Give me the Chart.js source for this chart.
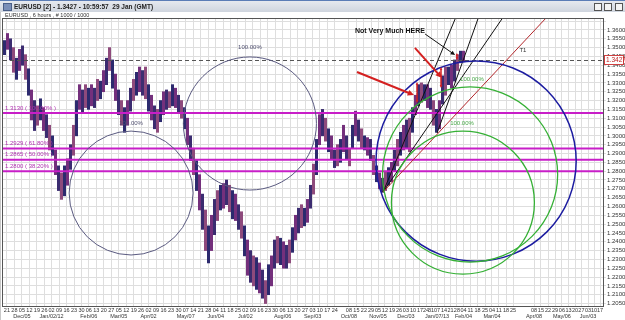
<!DOCTYPE html>
<html>
<head>
<meta charset="utf-8">
<script src="https://cdn.jsdelivr.net/npm/chart.js@4.4.0/dist/chart.umd.min.js"></script>
<style>
html, body { margin: 0; padding: 0; background: #fff; }
#wrap { position: relative; width: 625px; height: 320px; overflow: hidden; }
#tb { position: absolute; left: 0; top: 0; width: 625px; height: 12px; box-sizing: border-box;
  border-top: 1px solid #5b7db6; background: linear-gradient(#e6e9ef, #cfd5de);
  font: bold 6.5px 'Liberation Sans', Arial, sans-serif; color: #222; }
#tb .t { position: absolute; left: 14px; top: 2px; }
#tb .ico { position: absolute; left: 3px; top: 2px; width: 7px; height: 6px; background: #7a8fb8; border: 1px solid #4a5f88; }
#tb .b { position: absolute; top: 2px; width: 6px; height: 6px; border: 1px solid #555; background: #f4f4f4; }
#sub { position: absolute; left: 5px; top: 12px; font: 5.5px 'Liberation Sans', Arial, sans-serif; color: #333; }
canvas { position: absolute; left: 0; top: 0; }
</style>
</head>
<body>
<div id="wrap">
<canvas id="c" width="625" height="320"></canvas>
<div id="tb"><span class="ico"></span><span class="t">EURUSD [2] - 1.3427 - 10:59:57&nbsp; 29 Jan (GMT)</span>
<span class="b" style="left:594px"></span><span class="b" style="left:604px"></span><span class="b" style="left:615px"></span></div>
<div id="sub">EURUSD , 6 hours , # 1000 / 1000</div>
</div>
<script>
// weekly x labels (one per week start), month label under the first week of a month
const weekDays = ['21','28','05','12','19','26','02','09','16','23','30','06','13','20','27','05','12','19','26','02','09','16','23','30','07','14','21','28','04','11','18','25','02','09','16','23','30','06','13','20','27','03','10','17','24',
  '08','15','22','29','05','12','19','26','03','10','17','24','31','07','14','21','28','04','11','18','25','04','11','18','25',
  '08','15','22','29','06','13','20','27','03','10','17'];
const monthNames = {2:'Dec/05', 6:'Jan/02/12', 11:'Feb/06', 15:'Mar/05', 19:'Apr/02', 24:'May/07', 28:'Jun/04', 32:'Jul/02', 37:'Aug/06', 41:'Sep/03',
  45:'Oct/08', 49:'Nov/05', 53:'Dec/03', 58:'Jan/07/13', 62:'Feb/04', 66:'Mar/04', 70:'Apr/08', 74:'May/06', 78:'Jun/03'};
// bar slot where each week starts
const weekPos = [0.8,3.3,5.8,8.3,10.8,13.3,15.7,18.2,20.7,23.2,25.7,28.1,30.6,33.1,35.6,38.1,40.6,43.1,45.5,48.0,50.5,53.0,55.5,58.0,60.4,62.9,65.4,67.9,70.4,72.9,
  75.3,77.8,80.3,82.8,85.3,87.8,90.2,92.7,95.2,97.7,100.2,102.7,105.1,107.6,110.1,
  114.8,117.3,119.8,122.2,124.5,126.8,129.2,131.5,133.8,136.2,138.5,140.5,142.2,144.2,146.5,148.7,150.8,153.0,155.3,157.7,160.2,162.5,164.8,167.2,169.5,
  176.5,178.8,181.2,183.5,185.8,188.0,190.2,192.3,194.5,196.5,198.5];

// EURUSD price range per bar slot
const highs = [1.354,1.358,1.355,1.350,1.344,1.349,1.351,1.346,1.338,1.326,1.320,1.317,1.321,1.316,1.312,1.306,1.300,1.292,1.283,1.279,
  1.283,1.287,1.295,1.306,1.320,1.329,1.326,1.329,1.327,1.329,1.327,1.332,1.331,1.337,1.344,1.350,1.343,1.335,1.326,1.320,
  1.316,1.320,1.327,1.332,1.336,1.339,1.337,1.339,1.329,1.323,1.317,1.315,1.320,1.325,1.326,1.325,1.329,1.327,1.323,1.320,
  1.316,1.310,1.300,1.293,1.286,1.278,1.267,1.258,1.249,1.255,1.264,1.269,1.272,1.273,1.275,1.272,1.269,1.267,1.261,1.257,
  1.249,1.241,1.235,1.232,1.231,1.228,1.224,1.218,1.227,1.232,1.241,1.243,1.242,1.240,1.238,1.241,1.248,1.255,1.259,1.261,
  1.259,1.264,1.272,1.284,1.298,1.312,1.315,1.310,1.304,1.300,1.292,1.295,1.298,1.306,1.300,1.293,1.306,1.314,1.309,1.304,
  1.300,1.299,1.298,1.289,1.283,1.279,1.276,1.280,1.282,1.285,1.292,1.298,1.302,1.306,1.309,1.310,1.316,1.323,1.329,1.330,
  1.329,1.329,1.327,1.320,1.315,1.320,1.334,1.339,1.339,1.340,1.343,1.346,1.348,1.348];
const lows = [1.346,1.349,1.343,1.336,1.332,1.337,1.340,1.332,1.323,1.309,1.303,1.306,1.309,1.303,1.299,1.292,1.289,1.278,1.269,1.264,
  1.266,1.272,1.281,1.289,1.300,1.315,1.313,1.316,1.315,1.317,1.316,1.320,1.321,1.325,1.329,1.337,1.327,1.320,1.312,1.306,
  1.302,1.306,1.314,1.320,1.323,1.325,1.323,1.321,1.314,1.309,1.304,1.302,1.308,1.312,1.315,1.316,1.317,1.316,1.313,1.310,
  1.304,1.295,1.286,1.278,1.269,1.258,1.247,1.235,1.228,1.235,1.244,1.252,1.258,1.259,1.261,1.257,1.253,1.252,1.247,1.242,
  1.232,1.221,1.217,1.215,1.213,1.211,1.208,1.205,1.210,1.215,1.225,1.228,1.227,1.225,1.225,1.228,1.234,1.241,1.245,1.248,
  1.249,1.251,1.259,1.267,1.278,1.295,1.300,1.297,1.291,1.287,1.282,1.283,1.285,1.291,1.287,1.283,1.293,1.300,1.297,1.293,
  1.292,1.289,1.286,1.278,1.274,1.270,1.268,1.269,1.272,1.274,1.280,1.283,1.289,1.292,1.293,1.291,1.302,1.312,1.317,1.319,
  1.320,1.316,1.315,1.306,1.302,1.304,1.318,1.323,1.329,1.327,1.331,1.337,1.342,1.342];

const lastPrice = 1.3427;
const fibLevels = [1.3130, 1.2929, 1.2865, 1.2800];
const fibNames = ['100.00%', '61.80%', '50.00%', '38.20%'];

// circles: [slot, price] centre and the price at the top of each circle
const circleCenters = [[81.8, 1.3070], [42.2, 1.2676], [157.2, 1.2857], [155.2, 1.2781], [152.8, 1.2622]];
const circleTops = [1.3447, 1.3027, 1.3424, 1.3277, 1.3027];
const circleLabels = [[81.8, 1.3500], [42.2, 1.3070], null, [155.8, 1.3318], [152.5, 1.3070]];

// trend T1 and fan lines: [[slot, price], [slot, price]]
const trendT1 = [[126.2, 1.2682], [180.2, 1.3662]];
const fanLines = [
  [[126.2, 1.2682], [150.2, 1.3662]],
  [[144.2, 1.3016], [157.8, 1.3662]],
  [[126.2, 1.2682], [165.8, 1.3662]]
];
const redArrows = [[[117.5, 1.3362], [136.5, 1.3231]], [[136.8, 1.3498], [145.8, 1.3328]]];
const noteArrow = [[140.2, 1.3577], [150.2, 1.3458]];
const rangeMarks = [[137.5, 1.3305, 1.3186], [145.5, 1.3390, 1.3271], [150.8, 1.3470, 1.3430]];
const noteText = 'Not Very Much HERE';
const notePos = [128.5, 1.3594];
const t1Pos = [172.8, 1.3487];

const FONT = "'Liberation Sans', Arial, sans-serif";
const candleColors = ['#2c2a6e', '#74307c', '#3b2c70', '#8e4a7c'];

function seg(p) { return p.map(q => ({x: q[0], y: q[1]})); }

const datasets = [{
  type: 'bar',
  data: highs.map((h, i) => ({x: i, y: [lows[i], h]})),
  backgroundColor: highs.map((h, i) => candleColors[i % candleColors.length]),
  barThickness: 2.4,
  order: 10
}];
fibLevels.forEach(v => datasets.push({
  type: 'line', data: [{x: -0.5, y: v}, {x: 199.5, y: v}],
  borderColor: '#c81ec8', borderWidth: 2, pointRadius: 0, order: 5
}));
datasets.push({type: 'line', data: seg(trendT1), borderColor: '#b3262a', borderWidth: 1, pointRadius: 0, order: 2});
fanLines.forEach(l => datasets.push({type: 'line', data: seg(l), borderColor: '#111', borderWidth: 1, pointRadius: 0, order: 2}));

function arrow(ctx, x1, y1, x2, y2, color, w, head) {
  const a = Math.atan2(y2 - y1, x2 - x1);
  ctx.strokeStyle = color; ctx.fillStyle = color; ctx.lineWidth = w;
  ctx.beginPath(); ctx.moveTo(x1, y1); ctx.lineTo(x2 - Math.cos(a) * head * 0.6, y2 - Math.sin(a) * head * 0.6); ctx.stroke();
  ctx.beginPath(); ctx.moveTo(x2, y2);
  ctx.lineTo(x2 - head * Math.cos(a - 0.45), y2 - head * Math.sin(a - 0.45));
  ctx.lineTo(x2 - head * Math.cos(a + 0.45), y2 - head * Math.sin(a + 0.45));
  ctx.closePath(); ctx.fill();
}

const overlay = {
  id: 'overlay',
  beforeDraw(chart) {
    const {ctx, chartArea: a} = chart;
    ctx.save();
    ctx.fillStyle = '#fff';
    ctx.fillRect(a.left, a.top, a.right - a.left, a.bottom - a.top);
    ctx.fillStyle = '#c8c8c8';
    ctx.fillRect(0, 12, 1, 308);
    ctx.restore();
  },
  afterDatasetsDraw(chart) {
    const {ctx, chartArea: a, scales: {x, y}} = chart;
    const X = v => x.getPixelForValue(v), Y = v => y.getPixelForValue(v);
    ctx.save();
    ctx.beginPath(); ctx.rect(a.left, a.top, a.right - a.left, a.bottom - a.top); ctx.clip();

    // last price dashed line
    ctx.setLineDash([4, 3]); ctx.strokeStyle = '#555'; ctx.lineWidth = 1;
    ctx.beginPath(); ctx.moveTo(a.left, Math.round(Y(lastPrice)) + 0.5); ctx.lineTo(a.right, Math.round(Y(lastPrice)) + 0.5); ctx.stroke();
    ctx.setLineDash([]);

    // circles
    const cStyle = [['#5a5a80', 1], ['#5a5a80', 1], ['#1c1ca0', 1.5], ['#35b035', 1.3], ['#35b035', 1.3]];
    circleCenters.forEach((c, i) => {
      const cx = X(c[0]), cy = Y(c[1]);
      const r = Math.abs(cy - Y(circleTops[i]));
      ctx.strokeStyle = cStyle[i][0]; ctx.lineWidth = cStyle[i][1];
      ctx.beginPath(); ctx.arc(cx, cy, r, 0, Math.PI * 2); ctx.stroke();
    });
    ctx.font = '6px ' + FONT; ctx.textAlign = 'center'; ctx.textBaseline = 'middle';
    circleLabels.forEach((l, i) => {
      if (!l) return;
      ctx.fillStyle = i >= 3 ? '#48a848' : '#505070';
      ctx.fillText('100.00%', X(l[0]), Y(l[1]));
    });

    // fib level labels
    ctx.textAlign = 'left'; ctx.fillStyle = '#b030b0'; ctx.font = '6px ' + FONT;
    fibLevels.forEach((v, i) => ctx.fillText(v.toFixed(4) + ' ( ' + fibNames[i] + ' )', a.left + 2, Y(v) - 5));

    // arrows and range marks
    redArrows.forEach(r => arrow(ctx, X(r[0][0]), Y(r[0][1]), X(r[1][0]), Y(r[1][1]), '#d42020', 2, 7));
    arrow(ctx, X(noteArrow[0][0]), Y(noteArrow[0][1]), X(noteArrow[1][0]), Y(noteArrow[1][1]), '#111', 1, 5);
    rangeMarks.forEach(m => {
      const mx = X(m[0]), y1 = Y(m[1]), y2 = Y(m[2]);
      arrow(ctx, mx, (y1 + y2) / 2, mx, y1, '#d42020', 1.5, 3);
      arrow(ctx, mx, (y1 + y2) / 2, mx, y2, '#d42020', 1.5, 3);
    });

    ctx.fillStyle = '#111'; ctx.font = 'bold 7px ' + FONT; ctx.textAlign = 'center';
    ctx.fillText(noteText, X(notePos[0]), Y(notePos[1]));
    ctx.font = '6px ' + FONT; ctx.fillStyle = '#333';
    ctx.fillText('T1', X(t1Pos[0]), Y(t1Pos[1]));
    ctx.restore();

    // frame
    ctx.save();
    ctx.strokeStyle = '#555'; ctx.lineWidth = 1;
    ctx.strokeRect(a.left - 0.5, a.top - 0.5, a.right - a.left + 1, a.bottom - a.top + 1);
    // last price box on axis
    const py = Math.round(Y(lastPrice));
    ctx.fillStyle = '#fff'; ctx.fillRect(a.right + 1, py - 5, 20, 10);
    ctx.strokeStyle = '#d04040'; ctx.strokeRect(a.right + 1.5, py - 4.5, 19, 9);
    ctx.fillStyle = '#c02020'; ctx.font = '6.5px ' + FONT; ctx.textAlign = 'left'; ctx.textBaseline = 'middle';
    ctx.fillText(lastPrice.toFixed(4), a.right + 3, py + 0.5);
    ctx.restore();
  }
};

new Chart(document.getElementById('c'), {
  type: 'bar',
  data: {datasets: datasets},
  options: {
    responsive: false,
    animation: false,
    events: [],
    layout: {padding: {left: 3, top: 19, right: 0, bottom: 0}},
    plugins: {legend: {display: false}, tooltip: {enabled: false}},
    scales: {
      x: {
        type: 'linear', min: -0.5, max: 199.5, offset: false,
        afterBuildTicks: s => { s.ticks = weekPos.map(v => ({value: v})); },
        afterFit: s => { s.height = 14; },
        grid: {color: '#dedede', lineWidth: 1, tickLength: 1, offset: false},
        border: {display: false},
        ticks: {
          autoSkip: false, maxRotation: 0, padding: 0, color: '#333',
          font: {size: 5.5, family: FONT, lineHeight: 1.1},
          callback: (v, i) => monthNames[i] ? [weekDays[i], monthNames[i]] : weekDays[i]
        }
      },
      y: {
        type: 'linear', position: 'right', min: 1.2036, max: 1.3662,
        afterFit: s => { s.width = 22; },
        grid: {color: '#dedede', lineWidth: 1, tickLength: 3},
        border: {display: false},
        ticks: {
          stepSize: 0.005, includeBounds: false, autoSkip: false, padding: 1, color: '#333',
          font: {size: 6, family: FONT},
          callback: v => v > 1.3625 ? '' : v.toFixed(4)
        }
      }
    }
  },
  plugins: [overlay]
});
</script>
</body>
</html>
